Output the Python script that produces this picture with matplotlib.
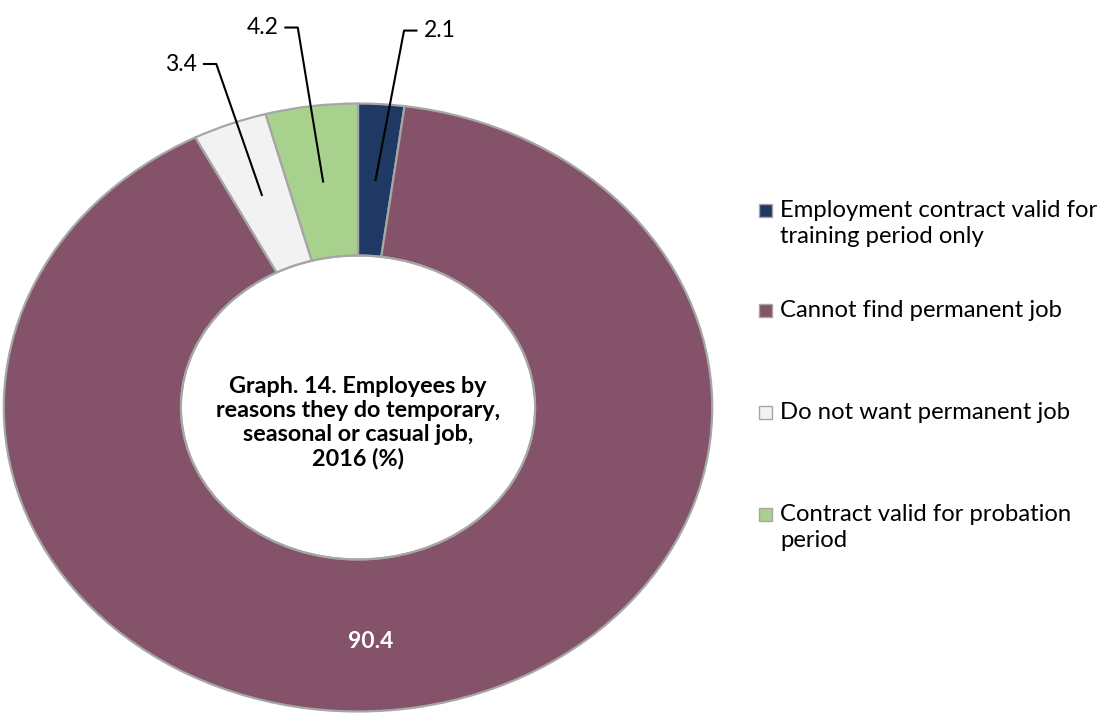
import numpy as np
import matplotlib
matplotlib.use("Agg")
import matplotlib.pyplot as plt
from matplotlib.patches import Rectangle

plt.rcParams["font.family"] = ["Lato", "DejaVu Sans"]

# data
categories = ["Employment contract valid for\ntraining period only",
              "Cannot find permanent job",
              "Do not want permanent job",
              "Contract valid for probation\nperiod"]
values = [2.1, 90.4, 3.4, 4.2]
colors = ["#203864", "#845369", "#F2F2F2", "#A9D18E"]
title = "Graph. 14. Employees by\nreasons they do temporary,\nseasonal or casual job,\n2016 (%)"

W, H = 1102, 715
fig = plt.figure(figsize=(W / 100, H / 100), dpi=100)
# donut is drawn as an ellipse like the excel original
ax = fig.add_axes([2 / W, 2 / H, 712 / W, 611 / H])

wedges, _ = ax.pie(values, colors=colors, startangle=90, counterclock=False,
                   radius=1.0,
                   wedgeprops=dict(width=0.5, edgecolor="#A6A6A6", linewidth=1.6))
ax.set_aspect("auto")
ax.set_xlim(-1.005, 1.005)
ax.set_ylim(-1.005, 1.005)
ax.axis("off")

# inner hole outline
theta = np.linspace(0, 2 * np.pi, 400)
ax.plot(0.5 * np.cos(theta), 0.5 * np.sin(theta), color="#A6A6A6", lw=1.4)

ax.text(0, -0.05, title, ha="center", va="center", fontsize=16.8,
        fontweight="bold", linespacing=1.15, color="black")

# leader labels for small slices: (elbow x, elbow y, direction)
label_pos = {0: (0.13, 1.24, 1), 2: (-0.40, 1.13, -1), 3: (-0.17, 1.25, -1)}
mids = []
start = 90.0
for v in values:
    ang = start - v / sum(values) * 360 / 2
    mids.append(ang)
    start -= v / sum(values) * 360
for i, (ex, ey, d) in label_pos.items():
    a = np.deg2rad(mids[i])
    px, py = 0.75 * np.cos(a), 0.75 * np.sin(a)
    hx = ex + d * 0.035
    ax.plot([px, ex, hx], [py, ey, ey], color="black", lw=1.5, clip_on=False)
    ax.text(hx + d * 0.02, ey, f"{values[i]:.1f}", ha="left" if d > 0 else "right",
            va="center", fontsize=16.5, clip_on=False)

# big slice label
ax.text(0.037, -0.77, f"{values[1]:.1f}", ha="center", va="center",
        fontsize=16.5, fontweight="bold", color="white")

# legend drawn by hand so the box lines up with the first text line
leg_y = [210, 310, 412, 514]
for lab, c, y in zip(categories, colors, leg_y):
    fig.add_artist(Rectangle((759 / W, 1 - (y + 7) / H), 13 / W, 13 / H,
                             transform=fig.transFigure, facecolor=c,
                             edgecolor="#A6A6A6", lw=1))
    fig.text(780 / W, 1 - (y - 10) / H, lab, ha="left", va="top",
             fontsize=17.2, linespacing=1.3, color="black")

fig.savefig("out.png", dpi=100)
